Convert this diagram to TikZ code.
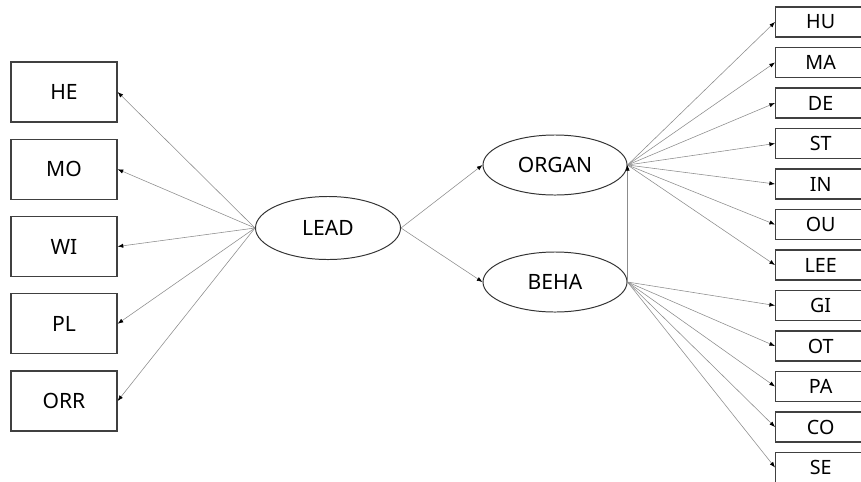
\documentclass[tikz,border=0pt]{standalone}
\usepackage{fontspec}
\setmainfont{Noto Sans}
\usetikzlibrary{arrows,arrows.meta,shapes.geometric}

\tikzset{
  lbox/.style={draw=black!75, line width=0.9pt, minimum width=2.65cm, minimum height=1.5cm, inner sep=0pt, font=\fontsize{15}{18}\selectfont},
  rbox/.style={draw=black!75, line width=0.9pt, minimum width=2.25cm, minimum height=0.75cm, inner sep=0pt, anchor=west, font=\fontsize{14}{16}\selectfont},
  lat/.style={draw=black!80, line width=0.7pt, ellipse, minimum width=3.6cm, minimum height=1.5cm, inner sep=0pt, font=\fontsize{15}{18}\selectfont},
  path/.style={draw=black!45, line width=0.4pt, -{Latex[length=4pt,width=3pt,black]}}
}

\begin{document}
\begin{tikzpicture}[x=0.025cm, y=-0.025cm]
      \useasboundingbox (0,0) rectangle (861,481);

      \node[lat, minimum width=3.625cm, minimum height=1.575cm] (LEAD) at (328,228) {LEAD};
      \node[lat] (ORGAN) at (555,165) {ORGAN};
      \node[lat] (BEHA) at (555,282) {BEHA};

      \foreach \n [count=\i from 0] in {HE,MO,WI,PL,ORR}
        \node[lbox] (\n) at (64,92+77.25*\i) {\n};

      \foreach \n [count=\i from 0] in {HU,MA,DE,ST,IN,OU,LEE,GI,OT,PA,CO,SE}
        \node[rbox] (\n) at (775,22+40.5*\i) {\n};

      \foreach \n in {HE,MO,WI,PL,ORR}
        \draw[path] (LEAD.west) -- (\n.east);
      \draw[path] (LEAD.east) -- (ORGAN.west);
      \draw[path] (LEAD.east) -- (BEHA.west);
      \foreach \n in {HU,MA,DE,ST,IN,OU,LEE}
        \draw[path] (ORGAN.east) -- (\n.west);
      \foreach \n in {GI,OT,PA,CO,SE}
        \draw[path] (BEHA.east) -- (\n.west);
      \draw[path] (BEHA.east) -- (ORGAN.east);
\end{tikzpicture}
\end{document}
